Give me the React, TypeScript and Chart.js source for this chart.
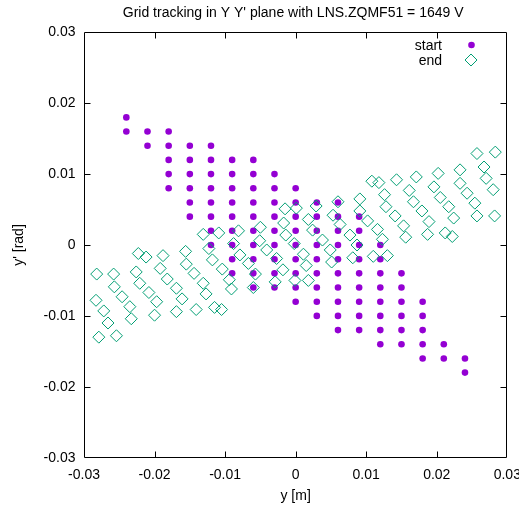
import React, { useEffect, useRef } from "react";
import { Chart, registerables } from "chart.js";

Chart.register(...registerables);

const titleText = "Grid tracking in Y Y' plane with LNS.ZQMF51 = 1649 V";
const xAxisLabel = "y [m]";
const yAxisLabel = "y' [rad]";
const seriesNames = ["start", "end"];
const tickValues = [-0.03, -0.02, -0.01, 0, 0.01, 0.02, 0.03];
const tickLabels = ["-0.03", "-0.02", "-0.01", "0", "0.01", "0.02", "0.03"];

// start grid (column by column)
const startX = [
  -0.024, -0.024,
  -0.021, -0.021,
  -0.018, -0.018, -0.018, -0.018, -0.018,
  -0.015, -0.015, -0.015, -0.015, -0.015, -0.015,
  -0.012, -0.012, -0.012, -0.012, -0.012, -0.012, -0.012, -0.012,
  -0.009, -0.009, -0.009, -0.009, -0.009, -0.009, -0.009, -0.009, -0.009,
  -0.006, -0.006, -0.006, -0.006, -0.006, -0.006, -0.006, -0.006, -0.006, -0.006,
  -0.003, -0.003, -0.003, -0.003, -0.003, -0.003, -0.003, -0.003, -0.003,
  0, 0, 0, 0, 0, 0, 0, 0, 0,
  0.003, 0.003, 0.003, 0.003, 0.003, 0.003, 0.003, 0.003, 0.003,
  0.006, 0.006, 0.006, 0.006, 0.006, 0.006, 0.006, 0.006, 0.006, 0.006,
  0.009, 0.009, 0.009, 0.009, 0.009, 0.009, 0.009, 0.009, 0.009,
  0.012, 0.012, 0.012, 0.012, 0.012, 0.012, 0.012, 0.012,
  0.015, 0.015, 0.015, 0.015, 0.015, 0.015,
  0.018, 0.018, 0.018, 0.018, 0.018,
  0.021, 0.021,
  0.024, 0.024,
];
const startY = [
  0.018, 0.016,
  0.016, 0.014,
  0.016, 0.014, 0.012, 0.010, 0.008,
  0.014, 0.012, 0.010, 0.008, 0.006, 0.004,
  0.014, 0.012, 0.010, 0.008, 0.006, 0.004, 0.002, 0,
  0.012, 0.010, 0.008, 0.006, 0.004, 0.002, 0, -0.002, -0.004,
  0.012, 0.010, 0.008, 0.006, 0.004, 0.002, 0, -0.002, -0.004, -0.006,
  0.010, 0.008, 0.006, 0.004, 0.002, 0, -0.002, -0.004, -0.006,
  0.008, 0.006, 0.004, 0.002, 0, -0.002, -0.004, -0.006, -0.008,
  0.006, 0.004, 0.002, 0, -0.002, -0.004, -0.006, -0.008, -0.010,
  0.006, 0.004, 0.002, 0, -0.002, -0.004, -0.006, -0.008, -0.010, -0.012,
  0.004, 0.002, 0, -0.002, -0.004, -0.006, -0.008, -0.010, -0.012,
  0, -0.002, -0.004, -0.006, -0.008, -0.010, -0.012, -0.014,
  -0.004, -0.006, -0.008, -0.010, -0.012, -0.014,
  -0.008, -0.010, -0.012, -0.014, -0.016,
  -0.014, -0.016,
  -0.016, -0.018,
];

// end positions
const endX = [
  -0.0282, -0.0258, -0.0226, -0.0223, -0.0212, -0.0188, -0.0156, -0.0192, -0.0155, -0.0144,
  -0.0182, -0.0221, -0.0257, -0.0169, -0.0208, -0.0246, -0.0161, -0.0197, -0.0283, -0.0235,
  -0.0272, -0.0141, -0.0169, -0.0200, -0.0233, -0.0266, -0.0279, -0.0254, -0.0131, -0.0109,
  -0.0081, -0.0050, -0.0017, -0.0015, -0.0014, -0.0051, -0.0088, -0.0123, -0.0041, -0.0079,
  -0.0118, -0.0027, -0.0067, -0.0104, -0.0018, -0.0057, -0.0094, -0.0131, -0.0060, -0.0091,
  -0.0127, -0.0115, -0.0105, -0.0029, -0.0002,
  0.0257, 0.0283, 0.0267, 0.0233, 0.0202, 0.0171, 0.0143, 0.0108, 0.0118, 0.0270,
  0.0233, 0.0196, 0.0161, 0.0126, 0.0091, 0.0060, 0.0029, 0.0001, 0.0280, 0.0243,
  0.0205, 0.0167, 0.0128, 0.0091, 0.0053, 0.0018, 0.0254, 0.0217, 0.0179, 0.0141,
  0.0102, 0.0063, 0.0024, 0.0257, 0.0282, 0.0224, 0.0189, 0.0153, 0.0116, 0.0077,
  0.0038, 0.0212, 0.0222, 0.0187, 0.0156, 0.0123, 0.0087, 0.0049, 0.0011, 0.0130,
  0.0110, 0.0081, 0.0051, 0.0015, 0.0018, -0.0001,
];
const endY = [
  -0.0041, -0.0041, -0.0038, -0.0012, -0.0017, -0.0015, -0.0009, -0.0033, -0.0027, -0.0040,
  -0.0048, -0.0054, -0.0059, -0.0061, -0.0067, -0.0073, -0.0076, -0.0080, -0.0078, -0.0087,
  -0.0093, -0.0091, -0.0094, -0.0099, -0.0104, -0.0110, -0.0130, -0.0128, 0.0015, 0.0017,
  0.0020, 0.0025, 0.0031, 0.0051, 0.0014, 0.0006, 0.0002, -0.0005, -0.0007, -0.0014,
  -0.0021, -0.0019, -0.0026, -0.0034, -0.0035, -0.0041, -0.0049, -0.0054, -0.0060, -0.0062,
  -0.0069, -0.0088, -0.0091, -0.0052, 0.0002,
  0.0129, 0.0131, 0.0110, 0.0106, 0.0101, 0.0096, 0.0092, 0.0090, 0.0088, 0.0094,
  0.0087, 0.0082, 0.0077, 0.0071, 0.0065, 0.0061, 0.0055, 0.0052, 0.0078, 0.0073,
  0.0067, 0.0061, 0.0054, 0.0048, 0.0042, 0.0036, 0.0059, 0.0054, 0.0048, 0.0041,
  0.0034, 0.0029, 0.0021, 0.0041, 0.0041, 0.0038, 0.0033, 0.0027, 0.0022, 0.0014,
  0.0007, 0.0017, 0.0012, 0.0015, 0.0011, 0.0008, 0.0000, -0.0007, -0.0013, -0.0015,
  -0.0016, -0.0018, -0.0024, -0.0029, -0.0050, -0.0050,
];

const startColor = "#9400d3";
const endColor = "#009e73";
const FONT = '14px "Liberation Sans", Arial, sans-serif';

const framePlugin = {
  id: "gnuFrame",
  afterDraw(chart: any) {
    const { ctx, chartArea: a, scales } = chart;
    const xs = scales.x;
    const ys = scales.y;
    const L = Math.round(a.left) + 0.5;
    const R = Math.round(a.right) - 0.5;
    const T = Math.round(a.top) + 0.5;
    const B = Math.round(a.bottom) - 0.5;
    ctx.save();
    ctx.strokeStyle = "#000";
    ctx.lineWidth = 1;
    ctx.beginPath();
    ctx.rect(L, T, R - L, B - T);
    const tl = 6;
    tickValues.forEach((v, i) => {
      if (i === 0 || i === tickValues.length - 1) return;
      const px = Math.round(xs.getPixelForValue(v)) + 0.5;
      ctx.moveTo(px, B);
      ctx.lineTo(px, B - tl);
      ctx.moveTo(px, T);
      ctx.lineTo(px, T + tl);
      const py = Math.round(ys.getPixelForValue(v)) + 0.5;
      ctx.moveTo(L, py);
      ctx.lineTo(L + tl, py);
      ctx.moveTo(R, py);
      ctx.lineTo(R - tl, py);
    });
    ctx.stroke();

    ctx.fillStyle = "#000";
    ctx.font = FONT;
    // x tick labels
    ctx.textAlign = "center";
    ctx.textBaseline = "alphabetic";
    tickValues.forEach((v, i) => {
      ctx.fillText(tickLabels[i], xs.getPixelForValue(v), a.bottom + 21);
    });
    // y tick labels
    ctx.textAlign = "right";
    ctx.textBaseline = "middle";
    tickValues.forEach((v, i) => {
      ctx.fillText(tickLabels[i], a.left - 8.5, ys.getPixelForValue(v));
    });
    // title
    ctx.textAlign = "center";
    ctx.textBaseline = "alphabetic";
    ctx.fillText(titleText, (a.left + a.right) / 2 - 2.5, 17);
    // x axis label
    ctx.fillText(xAxisLabel, (a.left + a.right) / 2, 500);
    // y axis label
    ctx.save();
    ctx.translate(23, (a.top + a.bottom) / 2);
    ctx.rotate(-Math.PI / 2);
    ctx.fillText(yAxisLabel, 0, 0);
    ctx.restore();

    // legend
    ctx.textAlign = "right";
    ctx.fillText(seriesNames[0], 442, 50);
    ctx.fillText(seriesNames[1], 442, 65);
    ctx.fillStyle = startColor;
    ctx.beginPath();
    ctx.arc(471.5, 45, 3.3, 0, Math.PI * 2);
    ctx.fill();
    ctx.strokeStyle = endColor;
    ctx.beginPath();
    ctx.moveTo(471 - 6, 60);
    ctx.lineTo(471, 54);
    ctx.lineTo(471 + 6, 60);
    ctx.lineTo(471, 66);
    ctx.closePath();
    ctx.stroke();
    ctx.restore();
  },
};

export default function App() {
  const ref = useRef<HTMLCanvasElement>(null);
  useEffect(() => {
    document.body.style.margin = "0";
    const startData = startX.map((x, i) => ({ x, y: startY[i] }));
    const endData = endX.map((x, i) => ({ x, y: endY[i] }));
    const chart = new Chart(ref.current as HTMLCanvasElement, {
      type: "scatter",
      data: {
        datasets: [
          {
            label: seriesNames[0],
            data: startData,
            pointStyle: "circle",
            pointRadius: 3.3,
            pointBorderWidth: 0,
            pointBackgroundColor: startColor,
            backgroundColor: startColor,
            borderColor: startColor,
            order: 2,
          },
          {
            label: seriesNames[1],
            data: endData,
            pointStyle: "rectRot",
            pointRadius: 6,
            pointBorderWidth: 1,
            pointBorderColor: endColor,
            pointBackgroundColor: "rgba(0,0,0,0)",
            borderColor: endColor,
            backgroundColor: "rgba(0,0,0,0)",
            order: 1,
          },
        ],
      },
      options: {
        responsive: false,
        devicePixelRatio: 1,
        animation: false,
        layout: { padding: { left: 84, right: 11.7, top: 32.3, bottom: 50.3 } },
        plugins: {
          legend: { display: false },
          title: { display: false },
          tooltip: { enabled: false },
        },
        scales: {
          x: { type: "linear", min: -0.03, max: 0.03, display: false },
          y: { type: "linear", min: -0.03, max: 0.03, display: false },
        },
      },
      plugins: [framePlugin],
    });
    return () => chart.destroy();
  }, []);
  return (
    <canvas
      ref={ref}
      width={519}
      height={508}
      style={{ display: "block", width: 519, height: 508 }}
    />
  );
}
